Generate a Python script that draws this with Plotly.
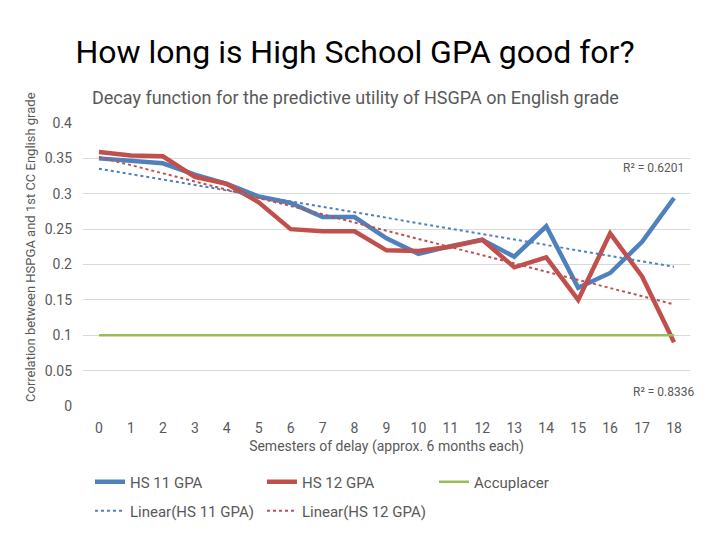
import numpy as np
import plotly.graph_objects as go

semesters = list(range(19))
hs11_gpa = [0.350, 0.346, 0.343, 0.327, 0.314, 0.296, 0.287, 0.267, 0.267, 0.237,
            0.215, 0.226, 0.235, 0.211, 0.254, 0.167, 0.188, 0.232, 0.294]
hs12_gpa = [0.359, 0.354, 0.353, 0.324, 0.314, 0.288, 0.250, 0.247, 0.247, 0.220,
            0.219, 0.225, 0.235, 0.196, 0.210, 0.150, 0.244, 0.183, 0.090]
accuplacer = [0.1] * 19
r2_labels = ["R² = 0.6201", "R² = 0.8336"]
tick_vals = [0, 0.05, 0.1, 0.15, 0.2, 0.25, 0.3, 0.35, 0.4]

BLUE = "#4f81bd"
RED = "#c0504d"
GREEN = "#9bbb59"
GRAY = "#595959"
FONT = "Roboto, Arial"

x = np.array(semesters)
fit11 = np.polyval(np.polyfit(x, hs11_gpa, 1), x)
fit12 = np.polyval(np.polyfit(x, hs12_gpa, 1), x)

fig = go.Figure()
fig.add_trace(go.Scatter(x=semesters, y=hs11_gpa, mode="lines", name="HS 11 GPA",
                         line=dict(color=BLUE, width=4.5), legend="legend"))
fig.add_trace(go.Scatter(x=semesters, y=hs12_gpa, mode="lines", name="HS 12 GPA",
                         line=dict(color=RED, width=4.5), legend="legend"))
fig.add_trace(go.Scatter(x=semesters, y=accuplacer, mode="lines", name="Accuplacer",
                         line=dict(color=GREEN, width=2.5), legend="legend"))
fig.add_trace(go.Scatter(x=semesters, y=fit11, mode="lines", name="Linear(HS 11 GPA)",
                         line=dict(color=BLUE, width=2, dash="dot"), legend="legend2"))
fig.add_trace(go.Scatter(x=semesters, y=fit12, mode="lines", name="Linear(HS 12 GPA)",
                         line=dict(color=RED, width=2, dash="dot"), legend="legend2"))

# page body has an 8px margin; positions below are given in window pixels
OFF = 8
PT, PB, PL, PR = 123 - OFF, 406 - OFF, 83 - OFF, 690 - OFF
PH = PB - PT
PW = PR - PL


def px(xw):
    return (xw - OFF - PL) / PW


def py(yw):
    return (PB - (yw - OFF)) / PH


fig.update_layout(
    width=720, height=540,
    margin=dict(l=PL, r=720 - PR, t=PT, b=540 - PB, autoexpand=False),
    paper_bgcolor="white", plot_bgcolor="white",
    font=dict(family=FONT, color=GRAY, size=13),
    title=dict(text="How long is High School GPA good for?", x=(355 - OFF) / 720,
               xanchor="center", y=1 - (52 - OFF) / 540, yanchor="middle", yref="container",
               font=dict(size=32, color="black", family=FONT)),
    xaxis=dict(range=[-0.5, 18.5], tickmode="array", tickvals=semesters,
               ticktext=[str(s) for s in semesters], showgrid=False, zeroline=False,
               showline=False, ticks="", tickfont=dict(size=14, color=GRAY),
               automargin=False, ticklabelstandoff=12,
               title=dict(text="Semesters of delay (approx. 6 months each)",
                          font=dict(size=14, color=GRAY), standoff=6)),
    yaxis=dict(range=[0, 0.4], tickmode="array", tickvals=tick_vals,
               ticktext=[f"{v:g}" for v in tick_vals],
               showgrid=True, gridcolor="#d9d9d9", gridwidth=1, zeroline=False,
               showline=False, ticks="", ticklabelstandoff=10, automargin=False,
               tickfont=dict(size=14, color=GRAY)),
    legend=dict(orientation="h", x=px(90), xanchor="left", y=py(482),
                yanchor="middle", entrywidth=127, entrywidthmode="pixels",
                font=dict(size=15, color=GRAY), itemwidth=30, bgcolor="rgba(0,0,0,0)"),
    legend2=dict(orientation="h", x=px(90), xanchor="left", y=py(511),
                 yanchor="middle", entrywidth=127, entrywidthmode="pixels",
                 font=dict(size=15, color=GRAY), itemwidth=30, bgcolor="rgba(0,0,0,0)"),
    showlegend=True,
)

fig.add_annotation(text="Decay function for the predictive utility of HSGPA on English grade",
                   xref="paper", yref="paper", x=px(355), y=py(97),
                   xanchor="center", yanchor="middle", showarrow=False,
                   font=dict(size=18, color=GRAY, family=FONT))
fig.add_annotation(text="Correlation between HSPGA and 1st CC English grade",
                   xref="paper", yref="paper", x=px(30), y=py(247),
                   xanchor="center", yanchor="middle", textangle=-90, showarrow=False,
                   font=dict(size=13, color=GRAY, family=FONT))
fig.add_annotation(text=r2_labels[0], xref="paper", yref="paper",
                   x=px(686), y=py(168), xanchor="right",
                   yanchor="middle", showarrow=False, font=dict(size=12, color=GRAY))
fig.add_annotation(text=r2_labels[1], xref="paper", yref="paper",
                   x=px(696), y=py(392), xanchor="right",
                   yanchor="middle", showarrow=False, font=dict(size=12, color=GRAY))

fig.write_html("out.html")
